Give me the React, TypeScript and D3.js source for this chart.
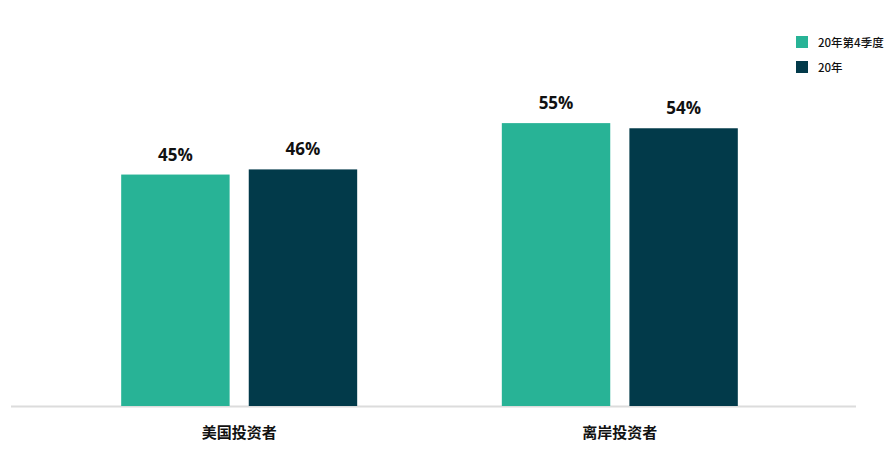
import React, { useEffect, useRef } from 'react';
import * as d3 from 'd3';

// chart data
const categories = ['美国投资者', '离岸投资者'];
const seriesNames = ['20年第4季度', '20年'];
const seriesColors = ['#28b396', '#023a4a'];
const q4Values = [45, 55];
const yearValues = [46, 54];

const width = 892;
const height = 470;

const App: React.FC = () => {
  const svgRef = useRef<SVGSVGElement>(null);

  useEffect(() => {
    if (!svgRef.current) return;
    const svg = d3.select(svgRef.current);
    svg.selectAll('*').remove();

    const baseline = 406;
    const x0 = d3.scaleBand<string>()
      .domain(categories)
      .range([7, 852])
      .paddingInner(0.38)
      .paddingOuter(0.3);

    const x1 = d3.scaleBand<string>()
      .domain(seriesNames)
      .range([0, x0.bandwidth()])
      .paddingInner(0.15);

    const y = d3.scaleLinear().domain([0, 60]).range([baseline, 97.4]);

    const rows = categories.map((c, i) => ({
      category: c,
      values: [q4Values[i], yearValues[i]],
    }));

    // baseline
    svg.append('line')
      .attr('x1', 11)
      .attr('x2', 856)
      .attr('y1', baseline + 0.5)
      .attr('y2', baseline + 0.5)
      .attr('stroke', '#dcdcdc')
      .attr('stroke-width', 2);

    const group = svg.selectAll('g.grp')
      .data(rows)
      .join('g')
      .attr('class', 'grp')
      .attr('transform', d => `translate(${x0(d.category)},0)`);

    group.selectAll('rect')
      .data(d => d.values.map((v, j) => ({ v, s: seriesNames[j], j })))
      .join('rect')
      .attr('x', d => x1(d.s) as number)
      .attr('width', x1.bandwidth())
      .attr('y', d => y(d.v))
      .attr('height', d => baseline - y(d.v))
      .attr('fill', d => seriesColors[d.j]);

    group.selectAll('text.val')
      .data(d => d.values.map((v, j) => ({ v, s: seriesNames[j] })))
      .join('text')
      .attr('class', 'val')
      .attr('x', d => (x1(d.s) as number) + x1.bandwidth() / 2)
      .attr('y', d => y(d.v) - 14)
      .attr('text-anchor', 'middle')
      .style('font-family', '"Open Sans", sans-serif')
      .style('font-weight', 700)
      .style('font-size', '17px')
      .attr('fill', '#111')
      .text(d => `${d.v}%`);

    // category labels
    svg.selectAll('text.cat')
      .data(categories)
      .join('text')
      .attr('class', 'cat')
      .attr('x', d => (x0(d) as number) + x0.bandwidth() / 2)
      .attr('y', 438)
      .attr('text-anchor', 'middle')
      .style('font-family', '"Noto Sans CJK SC", sans-serif')
      .style('font-weight', 700)
      .style('font-size', '15px')
      .attr('fill', '#111')
      .text(d => d);

    // legend
    const legend = svg.selectAll('g.leg')
      .data(seriesNames)
      .join('g')
      .attr('class', 'leg')
      .attr('transform', (_d, i) => `translate(796,${36 + i * 25})`);

    legend.append('rect')
      .attr('width', 12)
      .attr('height', 12)
      .attr('fill', (_d, i) => seriesColors[i]);

    legend.append('text')
      .attr('x', 22)
      .attr('y', 10.5)
      .style('font-family', '"Noto Sans CJK SC", sans-serif')
      .style('font-weight', 500)
      .style('font-size', '11.5px')
      .attr('fill', '#111')
      .text(d => d);
  }, []);

  return (
    <svg
      ref={svgRef}
      width={width}
      height={height}
      style={{ display: 'block', position: 'absolute', left: 0, top: 0, background: '#fff' }}
    />
  );
};

export default App;
